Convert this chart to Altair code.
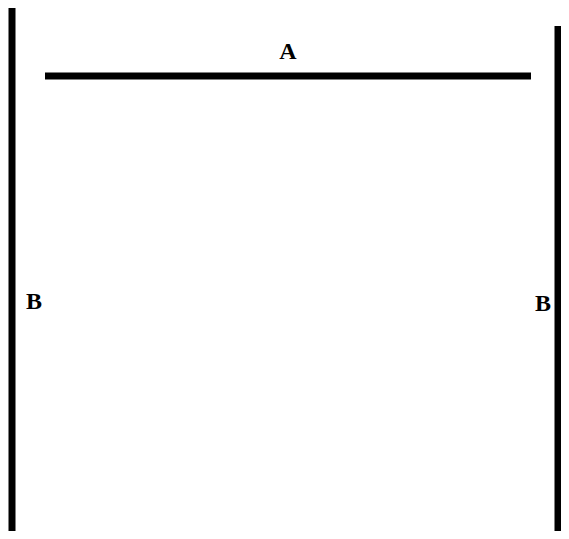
import altair as alt
import pandas as pd

# Line segments of the diagram (picture coordinates, y downwards)
seg_names = ["A", "B left", "B right"]
seg_x1 = [45, 12, 558]
seg_x2 = [531, 12, 558]
seg_y1 = [76, 3, 26]
seg_y2 = [76, 536, 534]

# Labels
lab_text = ["A", "B", "B"]
lab_x = [288, 34, 543]
lab_y = [52, 302, 304]

W, H = 553, 523
xs = alt.Scale(domain=[8, 8 + W], nice=False, zero=False)
ys = alt.Scale(domain=[8, 8 + H], reverse=True, nice=False, zero=False)

seg = pd.DataFrame({"name": seg_names, "x1": seg_x1, "x2": seg_x2, "y1": seg_y1, "y2": seg_y2})
lab = pd.DataFrame({"t": lab_text, "x": lab_x, "y": lab_y})

lines = alt.Chart(seg).mark_rule(color="black", strokeWidth=7, strokeCap="butt").encode(
    x=alt.X("x1:Q", scale=xs, axis=None),
    x2="x2:Q",
    y=alt.Y("y1:Q", scale=ys, axis=None),
    y2="y2:Q",
)

texts = alt.Chart(lab).mark_text(
    font="Liberation Serif", fontWeight="bold", fontSize=24, color="black",
    align="center", baseline="middle"
).encode(
    x=alt.X("x:Q", scale=xs, axis=None),
    y=alt.Y("y:Q", scale=ys, axis=None),
    text="t:N",
)

chart = (lines + texts).properties(
    width=W, height=H, padding=0, autosize=alt.AutoSizeParams(type="none")
).configure_view(stroke=None)

chart.save("out.html", embed_options={"renderer": "svg", "actions": False})
